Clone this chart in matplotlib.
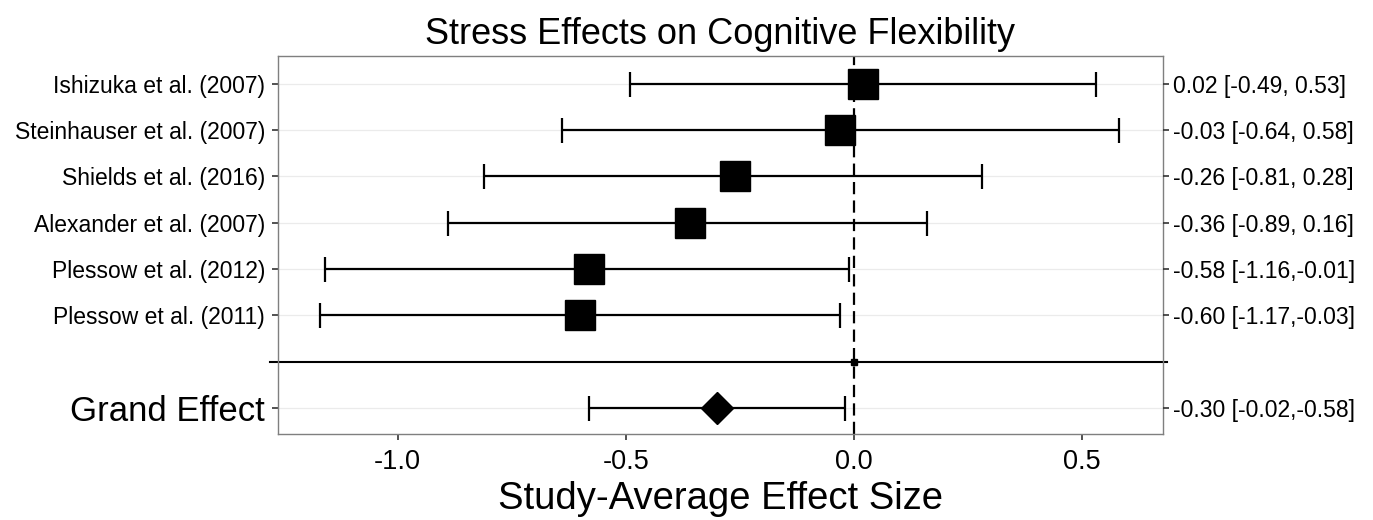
import matplotlib
matplotlib.use("Agg")
import matplotlib.pyplot as plt

plt.rcParams['font.family'] = ['Liberation Sans', 'DejaVu Sans']

studies = ["Ishizuka et al. (2007)", "Steinhauser et al. (2007)", "Shields et al. (2016)",
           "Alexander et al. (2007)", "Plessow et al. (2012)", "Plessow et al. (2011)"]
effects = [0.02, -0.03, -0.26, -0.36, -0.58, -0.60]
ci_low = [-0.49, -0.64, -0.81, -0.89, -1.16, -1.17]
ci_high = [0.53, 0.58, 0.28, 0.16, -0.01, -0.03]
right_labels = ["0.02 [-0.49, 0.53]", "-0.03 [-0.64, 0.58]", "-0.26 [-0.81, 0.28]",
                "-0.36 [-0.89, 0.16]", "-0.58 [-1.16,-0.01]", "-0.60 [-1.17,-0.03]"]

grand_label = "Grand Effect"
grand_effect = -0.30
grand_low = -0.58
grand_high = -0.02
grand_right = "-0.30 [-0.02,-0.58]"

xticks = [-1.0, -0.5, 0.0, 0.5]
xtick_labels = ["-1.0", "-0.5", "0.0", "0.5"]

W, H = 1373, 520
fig = plt.figure(figsize=(W / 100, H / 100), dpi=100)
L, R, T, B = 278, 1163, 56, 434
ax = fig.add_axes([L / W, (H - B) / H, (R - L) / W, (B - T) / H])

n = len(studies)
ys = list(range(n + 2, 2, -1))  # 8..3
sep_y = 2
grand_y = 1

xlim = (-1.262, 0.677)
ylim = (0.44, 8.6)
ax.set_xlim(*xlim)
ax.set_ylim(*ylim)

# grid
for y in ys + [grand_y]:
    ax.axhline(y, color='#ebebeb', lw=0.9, zorder=0)

# zero line
ax.axvline(0, color='black', lw=1.6, ls=(0, (5.5, 2.8)), zorder=1)

# studies
xerr = [[e - lo for e, lo in zip(effects, ci_low)], [hi - e for e, hi in zip(effects, ci_high)]]
ax.errorbar(effects, ys, xerr=xerr, fmt='none', ecolor='black', elinewidth=1.6,
            capsize=9, capthick=1.6, zorder=2)
ax.plot(effects, ys, 's', color='black', markersize=21.5, zorder=3)

# separator
ax.plot([xlim[0] - 0.017, xlim[1] + 0.009], [sep_y, sep_y], color='black', lw=1.5,
        clip_on=False, zorder=2)
ax.plot([0], [sep_y], 's', color='black', markersize=4, zorder=3)

# grand effect
ax.errorbar([grand_effect], [grand_y],
            xerr=[[grand_effect - grand_low], [grand_high - grand_effect]],
            fmt='none', ecolor='black', elinewidth=1.6, capsize=9, capthick=1.6, zorder=2)
ax.plot([grand_effect], [grand_y], 'D', color='black', markersize=16, zorder=3)

# axes styling
for s in ax.spines.values():
    s.set_color('#7f7f7f')
    s.set_linewidth(1.0)

ax.set_yticks(ys + [grand_y])
ax.set_yticklabels(studies + [grand_label])
for lab in ax.get_yticklabels()[:-1]:
    lab.set_fontsize(16.5)
ax.get_yticklabels()[-1].set_fontsize(25)
ax.tick_params(axis='y', length=4.3, width=1.2, color='#333333', pad=5, labelcolor='black')

ax.set_xticks(xticks)
ax.set_xticklabels(xtick_labels, fontsize=19.5)
ax.tick_params(axis='x', length=4.3, width=1.2, color='#333333', pad=6.5, labelcolor='black')

ax2 = ax.twinx()
ax2.set_ylim(*ylim)
ax2.set_yticks(ys + [grand_y])
ax2.set_yticklabels(right_labels + [grand_right], fontsize=16.5)
ax2.tick_params(axis='y', length=4.3, width=1.2, color='#333333', pad=3, labelcolor='black')
for s in ax2.spines.values():
    s.set_visible(False)

ax.set_xlabel("Study-Average Effect Size", fontsize=27.5, labelpad=4)
ax.set_title("Stress Effects on Cognitive Flexibility", fontsize=26, pad=9)

fig.savefig("out.png", dpi=100)
